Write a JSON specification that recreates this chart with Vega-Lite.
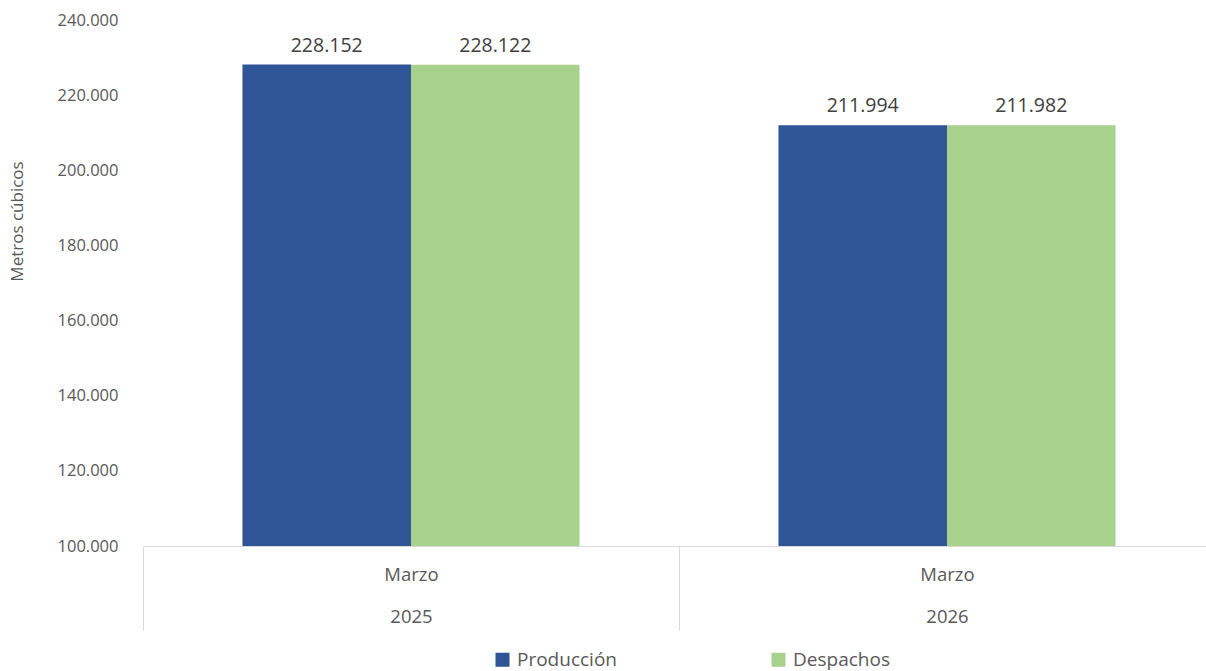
{
  "$schema": "https://vega.github.io/schema/vega-lite/v6.json",
  "width": 1072,
  "height": 526,
  "autosize": {"type": "none"},
  "padding": {"left": 143, "top": 20, "right": 0, "bottom": 125},
  "background": "white",
  "config": {
    "view": {"stroke": null},
    "font": "Open Sans",
    "locale": {"number": {"decimal": ",", "thousands": ".", "grouping": [3], "currency": ["$", ""]}}
  },
  "data": {
    "values": [
      {"year": "2025", "serie": "Producción", "value": 228152},
      {"year": "2025", "serie": "Despachos", "value": 228122},
      {"year": "2026", "serie": "Producción", "value": 211994},
      {"year": "2026", "serie": "Despachos", "value": 211982}
    ]
  },
  "encoding": {
    "x": {
      "field": "year",
      "type": "nominal",
      "scale": {"paddingInner": 0, "paddingOuter": 0},
      "axis": {
        "title": null,
        "labelAngle": 0,
        "domainColor": "#d9d9d9",
        "tickColor": "#d9d9d9",
        "tickBand": "extent",
        "tickSize": 84,
        "labelPadding": -65,
        "labelBaseline": "top",
        "labelExpr": "indexof(['2025','2026'], datum.label) >= 0 ? ['Marzo', datum.label] : ''",
        "labelLineHeight": 42,
        "labelFontSize": 18.5,
        "labelColor": "#595959"
      }
    },
    "xOffset": {
      "field": "serie",
      "type": "nominal",
      "sort": ["Producción", "Despachos"],
      "scale": {"paddingInner": 0, "paddingOuter": 0.59}
    },
    "y": {
      "field": "value",
      "type": "quantitative",
      "scale": {"domain": [100000, 240000], "zero": false},
      "axis": {
        "title": "Metros cúbicos",
        "titleFontSize": 17,
        "titleFontWeight": "normal",
        "titleColor": "#595959",
        "titleX": -126,
        "titleY": 201,
        "titleAngle": -90,
        "titleAlign": "center",
        "titleBaseline": "middle",
        "domain": false,
        "ticks": false,
        "grid": false,
        "values": [100000, 120000, 140000, 160000, 180000, 200000, 220000, 240000],
        "format": ",.0f",
        "labelPadding": 25,
        "labelFontSize": 16.5,
        "labelColor": "#595959"
      }
    }
  },
  "layer": [
    {
      "mark": {"type": "bar", "clip": true},
      "encoding": {
        "color": {
          "field": "serie",
          "type": "nominal",
          "sort": ["Producción", "Despachos"],
          "scale": {"domain": ["Producción", "Despachos"], "range": ["#2F5597", "#A9D18E"]},
          "legend": {
            "title": null,
            "orient": "none",
            "direction": "horizontal",
            "legendX": 350,
            "legendY": 630,
            "symbolType": "square",
            "symbolSize": 196,
            "symbolStrokeWidth": 0,
            "labelFontSize": 19,
            "labelColor": "#595959",
            "labelOffset": 5,
            "columnPadding": 152
          }
        }
      }
    },
    {
      "mark": {"type": "text", "dy": -9, "fontSize": 19.5, "color": "#404040", "baseline": "bottom"},
      "encoding": {
        "text": {"field": "value", "type": "quantitative", "format": ",.0f"}
      }
    }
  ]
}
